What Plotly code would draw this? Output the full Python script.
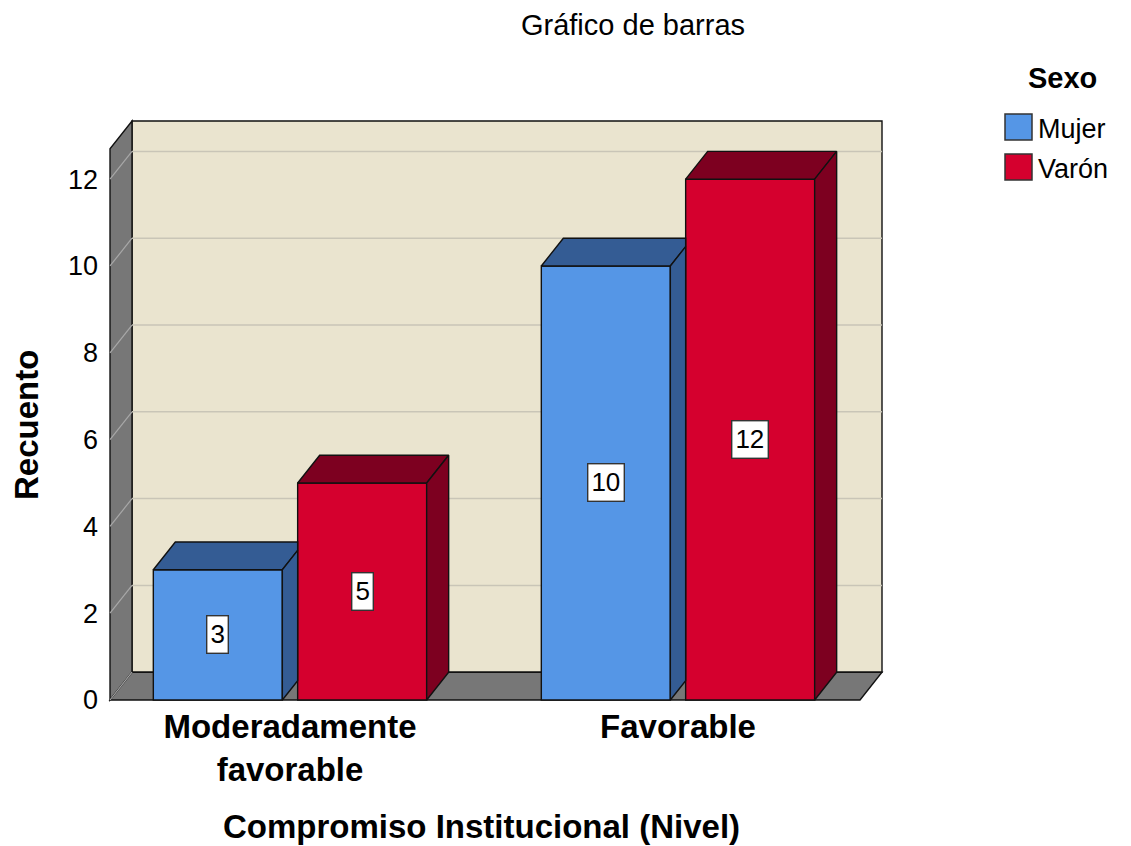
import plotly.graph_objects as go

# ---------------- data ----------------
categories = ["Moderadamente<br>favorable", "Favorable"]
series_names = ["Mujer", "Varón"]
mujer = [3, 10]
varon = [5, 12]
y_ticks = [0, 2, 4, 6, 8, 10, 12]

# ---------------- styling / geometry ----------------
FRONT = {"Mujer": "#5596E6", "Varón": "#D5002E"}
DARK = {"Mujer": "#345C94", "Varón": "#7D0020"}
WALL = "#EAE4CF"
GRAYW = "#777777"
EDGE = "#111111"
FONT = "Arial, Liberation Sans, sans-serif"

BAR_W = 0.3325
OFFS = [-0.186, 0.186]
DX = 0.0567      # depth offset in x units
DY = 0.64        # depth offset in value units
XL, XR = -0.4639, 1.4691   # front frame left/right
TOP = 12.70               # top of front frame (value units)

# plot area in pixels
L, R, T, B = 105, 236, 110, 142
W, H = 1131, 846
XRANGE = [-0.4768, 1.5593]
YRANGE = [-0.0922, 13.594]


def px2paper(px, py):
    return (px - L) / (W - L - R), ((H - B) - py) / (H - T - B)


fig = go.Figure()
shapes = []

# back wall
shapes.append(dict(type="rect", xref="x", yref="y", x0=XL + DX, x1=XR + DX, y0=DY, y1=TOP + DY,
                   fillcolor=WALL, line=dict(color=EDGE, width=1.4), layer="below"))
# left wall
shapes.append(dict(type="path", xref="x", yref="y",
                   path=f"M{XL},0 L{XL},{TOP} L{XL+DX},{TOP+DY} L{XL+DX},{DY} Z",
                   fillcolor=GRAYW, line=dict(color=EDGE, width=1.4), layer="below"))
# floor
shapes.append(dict(type="path", xref="x", yref="y",
                   path=f"M{XL},0 L{XR},0 L{XR+DX},{DY} L{XL+DX},{DY} Z",
                   fillcolor=GRAYW, line=dict(color=EDGE, width=1.4), layer="below"))
# gridlines
for v in y_ticks:
    if v > 0:
        shapes.append(dict(type="line", xref="x", yref="y", x0=XL + DX, x1=XR + DX, y0=v + DY, y1=v + DY,
                           line=dict(color="#C9C5B7", width=1.5), layer="below"))
    shapes.append(dict(type="line", xref="x", yref="y", x0=XL, x1=XL + DX, y0=v, y1=v + DY,
                       line=dict(color="#A8A8A8", width=1.2), layer="below"))

# front faces as bars
for s, (name, vals) in enumerate(zip(series_names, [mujer, varon])):
    xs = [i + OFFS[s] for i in range(len(categories))]
    fig.add_trace(go.Bar(x=xs, y=vals, width=BAR_W, name=name,
                         marker=dict(color=FRONT[name], line=dict(color=EDGE, width=1.4)),
                         showlegend=False, hoverinfo="skip"))


def poly(pts, color):
    xs = [p[0] for p in pts] + [pts[0][0]]
    ys = [p[1] for p in pts] + [pts[0][1]]
    fig.add_trace(go.Scatter(x=xs, y=ys, mode="lines", fill="toself", fillcolor=color,
                             line=dict(color=EDGE, width=1.4), showlegend=False, hoverinfo="skip"))


# top and side faces (drawn left to right, clipped where the next bar occludes)
bars = []
for i in range(len(categories)):
    for s, (name, vals) in enumerate(zip(series_names, [mujer, varon])):
        bars.append((i + OFFS[s] - BAR_W / 2, i + OFFS[s] + BAR_W / 2, vals[i], name))

for k, (x0, x1, v, name) in enumerate(bars):
    xc = x1 + DX
    if k + 1 < len(bars):
        nx0 = bars[k + 1][0]
        if nx0 < xc and bars[k + 1][2] >= v + DY:
            xc = nx0
    t = (xc - x1) / DX
    top = [(x0, v), (x1, v), (xc, v + DY * t)]
    if xc < x1 + DX:
        top.append((xc, v + DY))
    top.append((x0 + DX, v + DY))
    poly(top, DARK[name])
    side = [(x1, 0), (xc, DY * t), (xc, v + DY * t), (x1, v)]
    poly(side, DARK[name])

annotations = []
# value labels
for (x0, x1, v, name) in bars:
    annotations.append(dict(x=(x0 + x1) / 2, y=v / 2, xref="x", yref="y", text=str(v), showarrow=False,
                            font=dict(family=FONT, size=26, color="black"),
                            bgcolor="white", bordercolor="#333333", borderwidth=1.4, borderpad=3))

# axis titles
ax, ay = px2paper(481, 826)
annotations.append(dict(x=ax, y=ay, xref="paper", yref="paper", text="Compromiso Institucional (Nivel)",
                        showarrow=False, font=dict(family=FONT, size=33, color="black", weight="bold"),
                        xanchor="center", yanchor="middle"))
ax, ay = px2paper(26, 425)
annotations.append(dict(x=ax, y=ay, xref="paper", yref="paper", text="Recuento", textangle=-90,
                        showarrow=False, font=dict(family=FONT, size=33, color="black", weight="bold"),
                        xanchor="center", yanchor="middle"))

# legend (manual, to match the large swatches)
ax, ay = px2paper(1062, 78)
annotations.append(dict(x=ax, y=ay, xref="paper", yref="paper", text="Sexo", showarrow=False,
                        font=dict(family=FONT, size=29, color="black", weight="bold"),
                        xanchor="center", yanchor="middle"))
for j, name in enumerate(series_names):
    cy = 127 + 40 * j
    sx0, sy0 = px2paper(1005, cy - 13)
    sx1, sy1 = px2paper(1032, cy + 13)
    shapes.append(dict(type="rect", xref="paper", yref="paper", x0=sx0, x1=sx1, y0=sy0, y1=sy1,
                       fillcolor=FRONT[name], line=dict(color="#333333", width=1.5)))
    ax, ay = px2paper(1036, cy + 2)
    annotations.append(dict(x=ax, y=ay, xref="paper", yref="paper", text=name, showarrow=False,
                            font=dict(family=FONT, size=27, color="black"),
                            xanchor="left", yanchor="middle"))

fig.update_layout(
    width=W, height=H,
    margin=dict(l=L, r=R, t=T, b=B, autoexpand=False),
    paper_bgcolor="white", plot_bgcolor="white",
    barmode="overlay",
    title=dict(text="Gráfico de barras", x=633 / W, y=1 - 25 / H, xref="container", yref="container",
               xanchor="center", yanchor="middle", font=dict(family=FONT, size=29, color="black")),
    xaxis=dict(range=XRANGE, tickvals=list(range(len(categories))), ticktext=categories,
               showgrid=False, zeroline=False, showline=False, ticks="",
               tickfont=dict(family=FONT, size=33, color="black", weight="bold")),
    yaxis=dict(range=YRANGE, tickvals=y_ticks, showgrid=False, zeroline=False, showline=False,
               ticks="", ticklabelstandoff=6,
               tickfont=dict(family=FONT, size=27, color="black")),
    shapes=shapes, annotations=annotations,
    showlegend=False,
)

fig.write_html("out.html", config={"displayModeBar": False},
               post_script="document.body.style.margin='0';document.body.style.overflow='hidden';")
